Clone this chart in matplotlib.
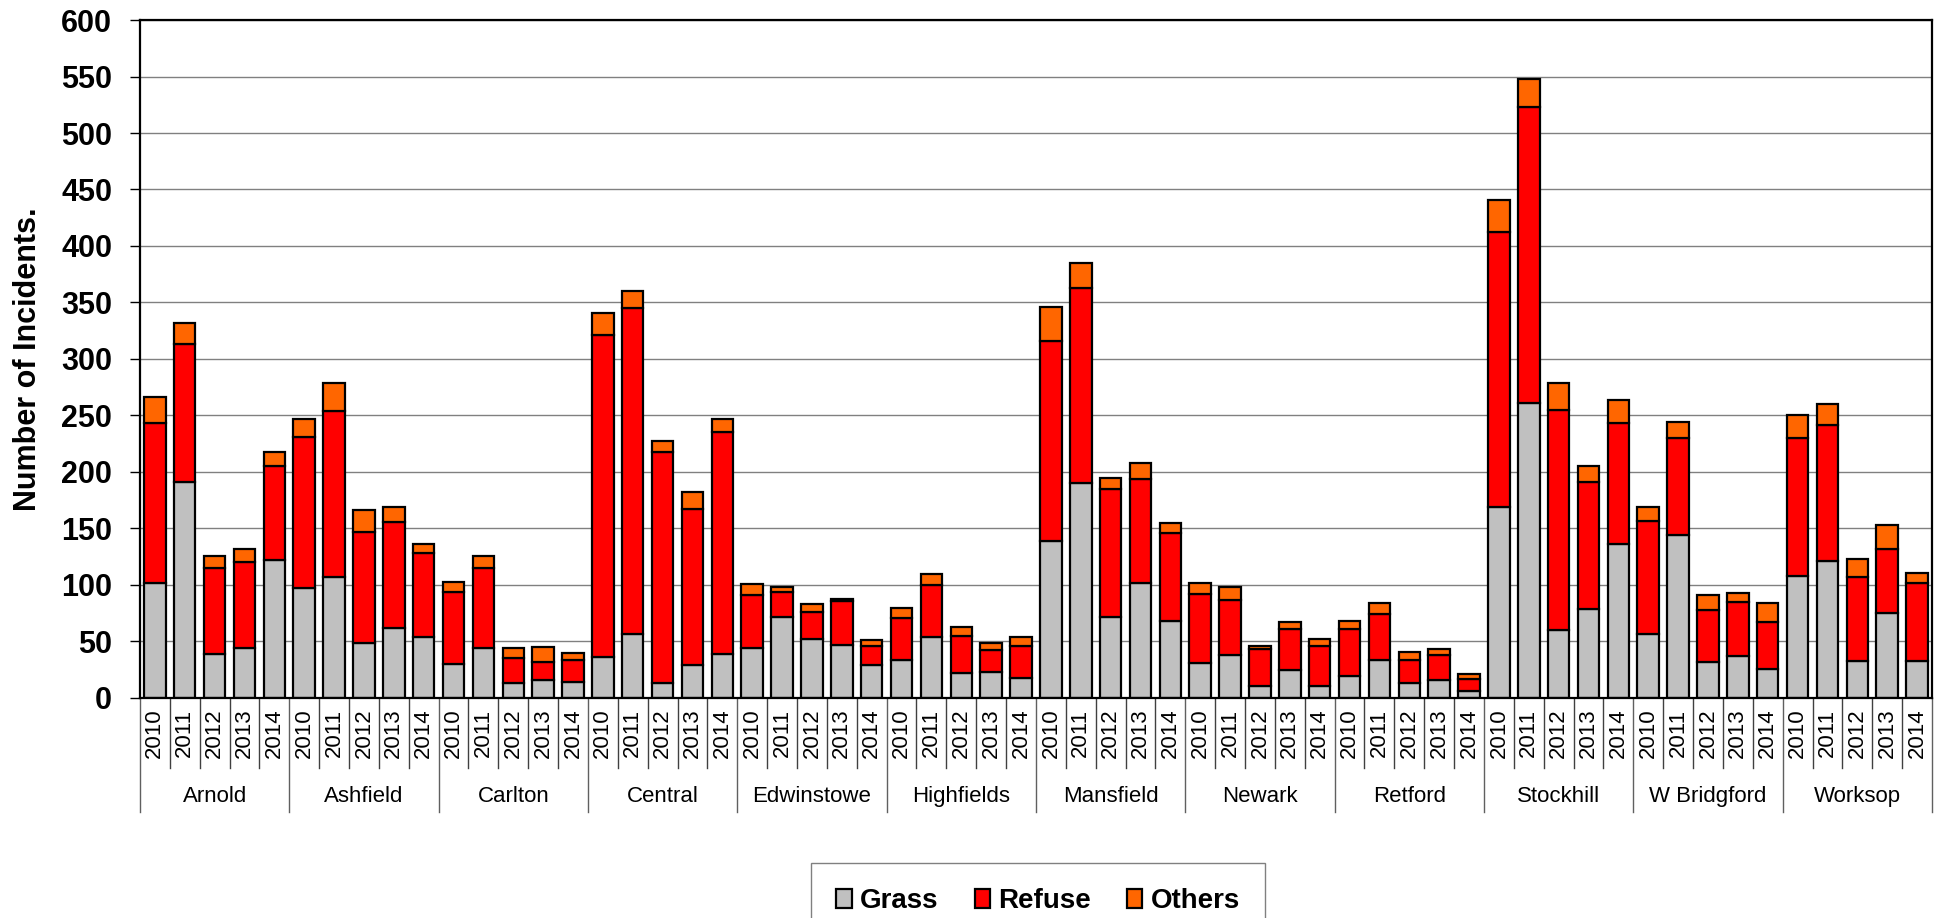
import matplotlib
matplotlib.use('Agg')
import matplotlib.pyplot as plt
import numpy as np

plt.rcParams['font.family'] = ['Liberation Sans', 'DejaVu Sans']

# Data
stations = ['Arnold', 'Ashfield', 'Carlton', 'Central', 'Edwinstowe', 'Highfields',
            'Mansfield', 'Newark', 'Retford', 'Stockhill', 'W Bridgford', 'Worksop']
years = ['2010', '2011', '2012', '2013', '2014']

grass = [102, 191, 39, 44, 122,
         97, 107, 49, 62, 54,
         30, 44, 13, 16, 14,
         36, 57, 13, 29, 39,
         44, 72, 52, 47, 29,
         34, 54, 22, 23, 18,
         139, 190, 72, 102, 68,
         31, 38, 11, 25, 11,
         19, 34, 13, 16, 6,
         169, 261, 60, 79, 136,
         57, 144, 32, 37, 26,
         108, 121, 33, 75, 33]
refuse = [141, 122, 76, 76, 83,
          134, 147, 98, 94, 74,
          64, 71, 22, 16, 20,
          285, 288, 205, 138, 196,
          47, 22, 24, 39, 17,
          37, 46, 33, 19, 28,
          177, 173, 113, 92, 78,
          61, 49, 32, 36, 35,
          42, 40, 21, 22, 11,
          243, 262, 195, 112, 107,
          100, 86, 46, 48, 41,
          122, 121, 74, 57, 69]
others = [23, 19, 11, 12, 13,
          16, 25, 19, 13, 8,
          9, 11, 9, 13, 6,
          20, 15, 9, 15, 12,
          10, 4, 7, 2, 5,
          9, 10, 8, 7, 8,
          30, 22, 10, 14, 9,
          10, 11, 3, 6, 6,
          7, 10, 7, 5, 4,
          29, 25, 24, 14, 21,
          12, 14, 13, 8, 17,
          20, 18, 16, 21, 9]

# Kanvas
fig = plt.figure(figsize=(19.46, 9.18), dpi=100)
ax = fig.add_axes([0.0719, 0.2397, 0.9209, 0.7385])

x = np.arange(len(grass))
g = np.array(grass)
r = np.array(refuse)
o = np.array(others)
w = 0.72
ax.bar(x, g, w, color='#C0C0C0', edgecolor='black', linewidth=1.6, label='Grass')
ax.bar(x, r, w, bottom=g, color='#FF0000', edgecolor='black', linewidth=1.6, label='Refuse')
ax.bar(x, o, w, bottom=g + r, color='#FF6600', edgecolor='black', linewidth=1.6, label='Others')

ax.set_xlim(-0.5, len(grass) - 0.5)
ax.set_ylim(0, 600)
ax.set_yticks(range(0, 601, 50))
ax.yaxis.grid(True, color='#808080', linewidth=1.0)
ax.set_axisbelow(True)
for s in ax.spines.values():
    s.set_color('black')
    s.set_linewidth(1.6)
ax.tick_params(axis='y', direction='out', length=7, width=1, pad=13, labelsize=22)
for lbl in ax.get_yticklabels():
    lbl.set_fontweight('bold')
ax.set_xticks([])

fig.text(0.0145, 0.609, 'Number of Incidents.', rotation=90, ha='center', va='center',
         fontsize=22, fontweight='bold')

# Sumbu kategori dua tingkat
trans = ax.get_xaxis_transform()
n_years = len(years)
for i in range(len(grass) + 1):
    xpos = i - 0.5
    if i % n_years == 0:
        ax.plot([xpos, xpos], [0, -0.168], transform=trans, color='#606060',
                linewidth=1.0, clip_on=False)
    else:
        ax.plot([xpos, xpos], [0, -0.1032], transform=trans, color='#404040',
                linewidth=1.0, clip_on=False)
for i in range(len(grass)):
    ax.text(i, -0.0516, years[i % n_years], transform=trans, rotation=90,
            ha='center', va='center', fontsize=16)
for j, name in enumerate(stations):
    ax.text(j * n_years + (n_years - 1) / 2, -0.146, name, transform=trans,
            ha='center', va='center', fontsize=16)

# Legenda
leg = fig.legend(loc='upper center', bbox_to_anchor=(0.5335, 0.0599), ncol=3,
                 fancybox=False, edgecolor='#808080', framealpha=1,
                 prop={'weight': 'bold', 'size': 20}, borderaxespad=0,
                 handlelength=0.55, handleheight=0.7, handletextpad=0.3,
                 columnspacing=1.3, borderpad=0.9)
leg.get_frame().set_linewidth(1.0)

fig.savefig('out.png', dpi=100)
